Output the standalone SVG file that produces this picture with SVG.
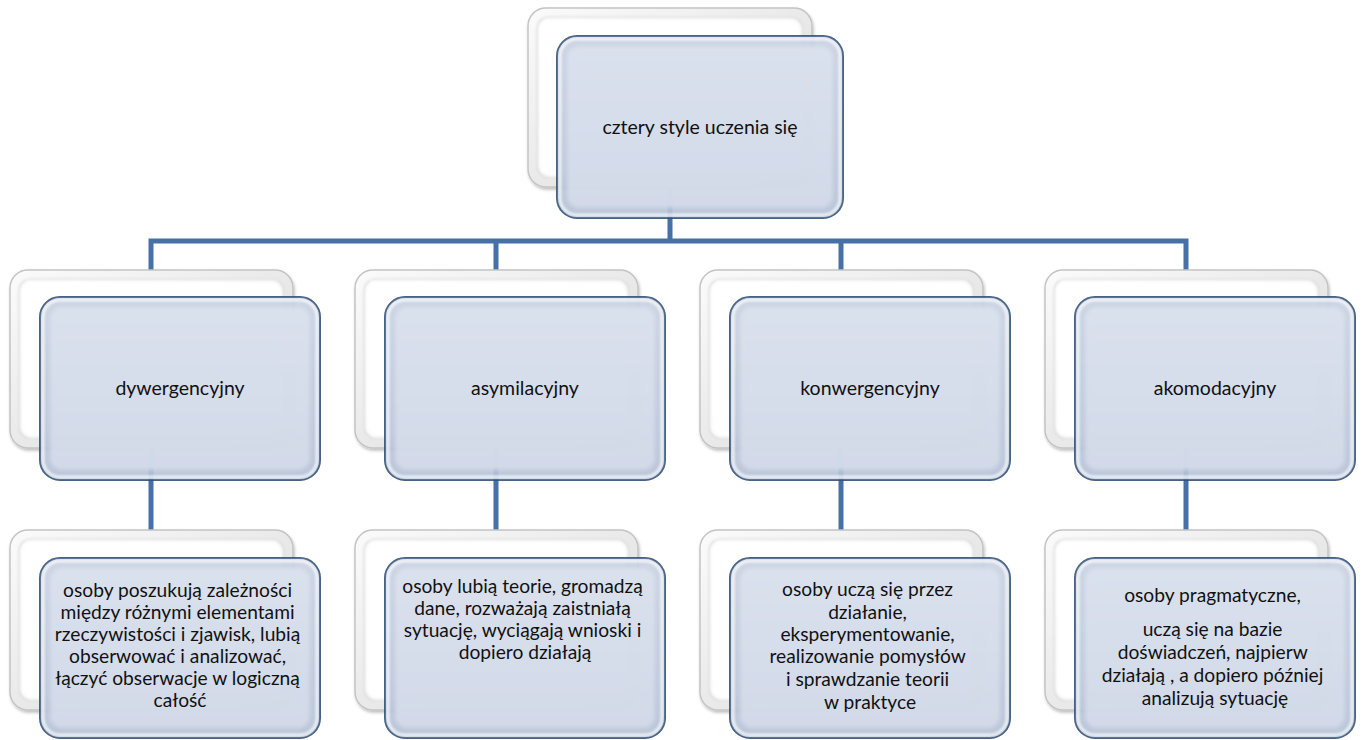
<svg xmlns="http://www.w3.org/2000/svg" width="1363" height="740" viewBox="0 0 1363 740">
  <style>
    .wire { fill: none; stroke: #4571a7; stroke-width: 5; stroke-linejoin: miter; }
    .back { fill: url(#backRing); stroke: #c4c4c4; stroke-width: 1.5; filter: url(#shadow); }
    .back-inner { fill: #ffffff; filter: url(#soft); }
    .back-rim { fill: none; stroke: #d6d6d6; stroke-width: 1.2; filter: url(#soft1); }
    .front { fill: url(#frontRing); stroke: #2d4c72; stroke-width: 2; opacity: 0.9; }
    .front-rim { fill: none; stroke: #ffffff; stroke-width: 3; opacity: 0.75; filter: url(#soft1); }
    .front-inner { fill: url(#frontPanel); filter: url(#soft); opacity: 0.93; }
    .label { font-family: Lato, "Liberation Sans", sans-serif; font-size: 19.5px; fill: #111111; text-anchor: middle; }
    .body { font-family: Lato, "Liberation Sans", sans-serif; font-size: 19.2px; fill: #111111; text-anchor: middle; }
  </style>
  <defs>
    <linearGradient id="backRing" x1="0" y1="0" x2="1" y2="1">
      <stop offset="0" stop-color="#fbfbfb"/>
      <stop offset="0.6" stop-color="#e6e6e6"/>
      <stop offset="1" stop-color="#c2c2c2"/>
    </linearGradient>
    <linearGradient id="frontRing" x1="0" y1="0" x2="0" y2="1">
      <stop offset="0" stop-color="#c8d1e2"/>
      <stop offset="1" stop-color="#b3c0d6"/>
    </linearGradient>
    <linearGradient id="frontPanel" x1="0" y1="0" x2="0" y2="1">
      <stop offset="0" stop-color="#dce3ee"/>
      <stop offset="1" stop-color="#d4dbe9"/>
    </linearGradient>
    <filter id="soft" x="-5%" y="-5%" width="110%" height="110%">
      <feGaussianBlur stdDeviation="2"/>
    </filter>
    <filter id="soft1" x="-5%" y="-5%" width="110%" height="110%">
      <feGaussianBlur stdDeviation="1"/>
    </filter>
    <filter id="shadow" x="-5%" y="-5%" width="115%" height="115%">
      <feDropShadow dx="1" dy="2" stdDeviation="1.5" flood-color="#000000" flood-opacity="0.25"/>
    </filter>
  </defs>

  <rect width="1363" height="740" fill="#ffffff"/>

  <!-- connectors sit beneath the boxes -->
  <g id="connectors">
    <path class="wire" d="M670 150 V241 M151 270 V241 H1186 V270 M496 241 V270 M841 241 V270"/>
    <path class="wire" d="M151 420 V532 M496 420 V532 M841 420 V532 M1186 420 V532"/>
  </g>

  <!-- root -->
  <g id="node-root">
    <rect class="back" x="528" y="8" width="284" height="179" rx="18"/>
    <rect class="back-inner" x="538" y="18" width="264" height="159" rx="12"/>
    <rect class="back-rim" x="537" y="17" width="266" height="161" rx="12"/>
    <rect class="front" x="557" y="36" width="286" height="182" rx="20"/>
    <rect class="front-rim" x="560" y="39" width="280" height="176" rx="17"/>
    <rect class="front-inner" x="567" y="46" width="266" height="162" rx="12"/>
    <text class="label" x="700" y="134">cztery style uczenia się</text>
  </g>

  <!-- second level -->
  <g id="node-dywergencyjny">
    <rect class="back" x="10" y="270" width="283" height="178" rx="18"/>
    <rect class="back-inner" x="20" y="280" width="263" height="158" rx="12"/>
    <rect class="back-rim" x="19" y="279" width="265" height="160" rx="12"/>
    <rect class="front" x="40" y="297" width="280" height="183" rx="20"/>
    <rect class="front-rim" x="43" y="300" width="274" height="177" rx="17"/>
    <rect class="front-inner" x="50" y="307" width="260" height="163" rx="12"/>
    <text class="label" x="180" y="395">dywergencyjny</text>
  </g>
  <g id="node-asymilacyjny">
    <rect class="back" x="355" y="270" width="283" height="178" rx="18"/>
    <rect class="back-inner" x="365" y="280" width="263" height="158" rx="12"/>
    <rect class="back-rim" x="364" y="279" width="265" height="160" rx="12"/>
    <rect class="front" x="385" y="297" width="280" height="183" rx="20"/>
    <rect class="front-rim" x="388" y="300" width="274" height="177" rx="17"/>
    <rect class="front-inner" x="395" y="307" width="260" height="163" rx="12"/>
    <text class="label" x="525" y="395">asymilacyjny</text>
  </g>
  <g id="node-konwergencyjny">
    <rect class="back" x="700" y="270" width="283" height="178" rx="18"/>
    <rect class="back-inner" x="710" y="280" width="263" height="158" rx="12"/>
    <rect class="back-rim" x="709" y="279" width="265" height="160" rx="12"/>
    <rect class="front" x="730" y="297" width="280" height="183" rx="20"/>
    <rect class="front-rim" x="733" y="300" width="274" height="177" rx="17"/>
    <rect class="front-inner" x="740" y="307" width="260" height="163" rx="12"/>
    <text class="label" x="870" y="395">konwergencyjny</text>
  </g>
  <g id="node-akomodacyjny">
    <rect class="back" x="1045" y="270" width="283" height="178" rx="18"/>
    <rect class="back-inner" x="1055" y="280" width="263" height="158" rx="12"/>
    <rect class="back-rim" x="1054" y="279" width="265" height="160" rx="12"/>
    <rect class="front" x="1075" y="297" width="280" height="183" rx="20"/>
    <rect class="front-rim" x="1078" y="300" width="274" height="177" rx="17"/>
    <rect class="front-inner" x="1085" y="307" width="260" height="163" rx="12"/>
    <text class="label" x="1215" y="395">akomodacyjny</text>
  </g>

  <!-- descriptions -->
  <g id="desc-dywergencyjny">
    <rect class="back" x="10" y="530" width="283" height="180" rx="18"/>
    <rect class="back-inner" x="20" y="540" width="263" height="160" rx="12"/>
    <rect class="back-rim" x="19" y="539" width="265" height="162" rx="12"/>
    <rect class="front" x="40" y="558" width="280" height="180" rx="20"/>
    <rect class="front-rim" x="43" y="561" width="274" height="174" rx="17"/>
    <rect class="front-inner" x="50" y="568" width="260" height="160" rx="12"/>
    <text class="body" x="180">
      <tspan x="180" y="597">osoby poszukują zależności</tspan>
      <tspan x="180" y="619">między różnymi elementami</tspan>
      <tspan x="180" y="641">rzeczywistości i zjawisk, lubią</tspan>
      <tspan x="180" y="663">obserwować i analizować,</tspan>
      <tspan x="180" y="685">łączyć obserwacje w logiczną</tspan>
      <tspan x="180" y="707">całość</tspan>
    </text>
  </g>
  <g id="desc-asymilacyjny">
    <rect class="back" x="355" y="530" width="283" height="180" rx="18"/>
    <rect class="back-inner" x="365" y="540" width="263" height="160" rx="12"/>
    <rect class="back-rim" x="364" y="539" width="265" height="162" rx="12"/>
    <rect class="front" x="385" y="558" width="280" height="180" rx="20"/>
    <rect class="front-rim" x="388" y="561" width="274" height="174" rx="17"/>
    <rect class="front-inner" x="395" y="568" width="260" height="160" rx="12"/>
    <text class="body" x="525">
      <tspan x="525" y="593">osoby lubią teorie, gromadzą</tspan>
      <tspan x="525" y="615">dane, rozważają zaistniałą</tspan>
      <tspan x="525" y="637">sytuację, wyciągają wnioski i</tspan>
      <tspan x="525" y="659">dopiero działają</tspan>
    </text>
  </g>
  <g id="desc-konwergencyjny">
    <rect class="back" x="700" y="530" width="283" height="180" rx="18"/>
    <rect class="back-inner" x="710" y="540" width="263" height="160" rx="12"/>
    <rect class="back-rim" x="709" y="539" width="265" height="162" rx="12"/>
    <rect class="front" x="730" y="558" width="280" height="180" rx="20"/>
    <rect class="front-rim" x="733" y="561" width="274" height="174" rx="17"/>
    <rect class="front-inner" x="740" y="568" width="260" height="160" rx="12"/>
    <text class="body" x="870">
      <tspan x="870" y="596">osoby uczą się przez</tspan>
      <tspan x="870" y="619">działanie,</tspan>
      <tspan x="870" y="641">eksperymentowanie,</tspan>
      <tspan x="870" y="663">realizowanie pomysłów</tspan>
      <tspan x="870" y="686">i sprawdzanie teorii</tspan>
      <tspan x="870" y="709">w praktyce</tspan>
    </text>
  </g>
  <g id="desc-akomodacyjny">
    <rect class="back" x="1045" y="530" width="283" height="180" rx="18"/>
    <rect class="back-inner" x="1055" y="540" width="263" height="160" rx="12"/>
    <rect class="back-rim" x="1054" y="539" width="265" height="162" rx="12"/>
    <rect class="front" x="1075" y="558" width="280" height="180" rx="20"/>
    <rect class="front-rim" x="1078" y="561" width="274" height="174" rx="17"/>
    <rect class="front-inner" x="1085" y="568" width="260" height="160" rx="12"/>
    <text class="body" x="1215">
      <tspan x="1215" y="602">osoby pragmatyczne,</tspan>
      <tspan x="1215" y="636">uczą się na bazie</tspan>
      <tspan x="1215" y="659">doświadczeń, najpierw</tspan>
      <tspan x="1215" y="682">działają ,  a dopiero później</tspan>
      <tspan x="1215" y="705">analizują sytuację</tspan>
    </text>
  </g>
</svg>
